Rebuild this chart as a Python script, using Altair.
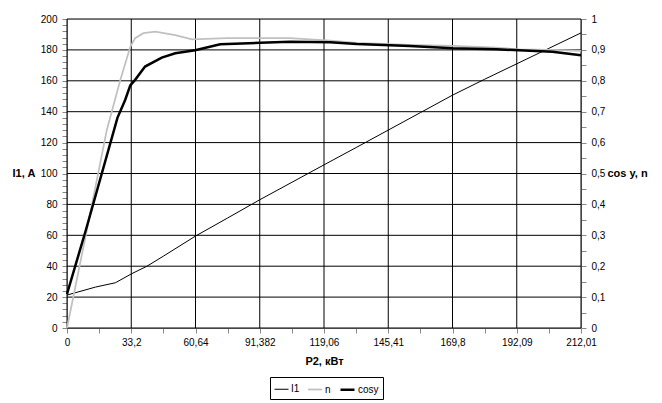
import altair as alt
import pandas as pd

# P2 category labels (every second category position)
p2_labels = ["0", "33,2", "60,64", "91,382", "119,06", "145,41", "169,8", "192,09", "212,01"]
n_categories = 17

series_names = ["I1", "n", "cosy"]

# I1, A (left axis) -- x given as category position
i1_pos = [0, 0.89, 1.51, 2, 2.49, 3, 4, 5, 6, 7, 8, 9, 10, 11, 12, 13, 14, 15, 16]
i1_val = [21.3, 26.5, 29.3, 35, 40, 46.5, 59.5, 71.2, 83, 94.3, 105.6, 116.8, 128.1, 139.4, 150.7, 161, 171, 181, 191]

# n (right axis)
n_pos = [0, 0.62, 1.24, 1.66, 1.97, 2.12, 2.38, 2.75, 3.37, 3.89, 4.98, 6.94, 8.19, 9.02, 10.67, 12.01, 13.37, 14.09, 15.11, 16]
n_val = [0, 0.318, 0.641, 0.803, 0.910, 0.938, 0.954, 0.959, 0.948, 0.934, 0.938, 0.938, 0.930, 0.923, 0.916, 0.913, 0.907, 0.902, 0.900, 0.897]

# cosy (right axis)
cos_pos = [0, 0.59, 1.57, 1.81, 1.97, 2.12, 2.43, 2.95, 3.37, 3.99, 4.77, 6.01, 6.94, 8.19, 9.02, 10.67, 12.01, 13.37, 15.11, 16]
cos_val = [0.11, 0.318, 0.68, 0.738, 0.785, 0.803, 0.846, 0.875, 0.889, 0.899, 0.918, 0.923, 0.926, 0.925, 0.919, 0.913, 0.905, 0.902, 0.894, 0.883]

# gridline positions
y_grid = list(range(0, 201, 20))
x_grid = list(range(0, n_categories, 2))

df_left = pd.DataFrame({"u": i1_pos, "v": i1_val, "series": "I1", "order": 0})
df_right = pd.concat([
    pd.DataFrame({"u": n_pos, "v": n_val, "series": "n", "order": 1}),
    pd.DataFrame({"u": cos_pos, "v": cos_val, "series": "cosy", "order": 2}),
])

label_arr = [p2_labels[i // 2] if i % 2 == 0 else "" for i in range(n_categories)]
label_expr = "[" + ",".join("'" + s + "'" for s in label_arr) + "][round(datum.value)]"

FONT = "Liberation Sans, Arial, sans-serif"

color_scale = alt.Scale(domain=series_names, range=["#000000", "#c0c0c0", "#000000"])
width_scale = alt.Scale(domain=series_names, range=[1, 2.5, 3])
x_scale = alt.Scale(domain=[0, n_categories - 1], nice=False, zero=False)
yl_scale = alt.Scale(domain=[0, 200], nice=False)

legend = alt.Legend(
    title=None, orient="none", legendX=203, legendY=358, direction="horizontal",
    strokeColor="black", padding=4, labelFont=FONT, labelFontSize=10, labelColor="black",
    symbolType="stroke", symbolSize=196, labelOffset=2, columnPadding=4,
    cornerRadius=0, fillColor="white",
)

x_axis = alt.Axis(
    values=list(range(n_categories)), labelExpr=label_expr, labelFlush=False,
    labelOverlap=False, title="P2, кВт", titleY=33, titleBaseline="middle",
    grid=False, labelPadding=4,
)
yl_axis = alt.Axis(
    values=list(range(0, 201, 4)),
    labelExpr="round(datum.value) % 20 == 0 ? datum.label : ''",
    labelOverlap=False,
    grid=False,
    title="I1, A", titleAngle=0, titleAlign="left", titleBaseline="middle",
    titleX=-55, titleY=154, labelPadding=5,
)

grid_h = alt.Chart(pd.DataFrame({"g": y_grid})).mark_rule(color="black", strokeWidth=1).encode(
    y=alt.Y("g:Q", scale=yl_scale, axis=yl_axis),
)
grid_v = alt.Chart(pd.DataFrame({"g": x_grid})).mark_rule(color="black", strokeWidth=1).encode(
    x=alt.X("g:Q", scale=x_scale, axis=x_axis),
)

left = alt.Chart(df_left).mark_line(clip=False).encode(
    x=alt.X("u:Q", scale=x_scale, axis=x_axis),
    y=alt.Y("v:Q", scale=yl_scale, axis=yl_axis),
    color=alt.Color("series:N", scale=color_scale, legend=legend),
    strokeWidth=alt.StrokeWidth("series:N", scale=width_scale, legend=legend),
    detail="series:N",
)

right = alt.Chart(df_right).mark_line(clip=False).encode(
    x=alt.X("u:Q", scale=x_scale, axis=x_axis),
    y=alt.Y(
        "v:Q",
        scale=alt.Scale(domain=[0, 1], nice=False),
        axis=alt.Axis(
            orient="right",
            values=[round(i * 0.05, 2) for i in range(21)],
            labelExpr="round(datum.value * 20) % 2 == 0 ? replace(format(datum.value, '.1~f'), '.', ',') : ''",
            labelOverlap=False,
            grid=False,
            title="cos y, n", titleAngle=0, titleAlign="left", titleBaseline="middle",
            titleX=26, titleY=154, labelPadding=5,
        ),
    ),
    color=alt.Color("series:N", scale=color_scale, legend=legend),
    strokeWidth=alt.StrokeWidth("series:N", scale=width_scale, legend=legend),
    detail="series:N",
    order="order:Q",
)

left_group = alt.layer(grid_h, grid_v, left)

chart = alt.layer(left_group, right).resolve_scale(y="independent").properties(
    width=514, height=309,
    autosize="none",
    padding={"left": 59, "top": 11, "right": 70, "bottom": 75},
).configure_axis(
    labelFont=FONT, labelFontSize=11, labelColor="black",
    titleFont=FONT, titleFontSize=11, titleFontWeight="bold", titleColor="black",
    domainColor="black", tickColor="black",
    tickSize=4, domainWidth=1, tickWidth=1,
).configure_view(stroke=None).configure(background="white")

chart.save("out.html", embed_options={"renderer": "svg", "actions": False})
